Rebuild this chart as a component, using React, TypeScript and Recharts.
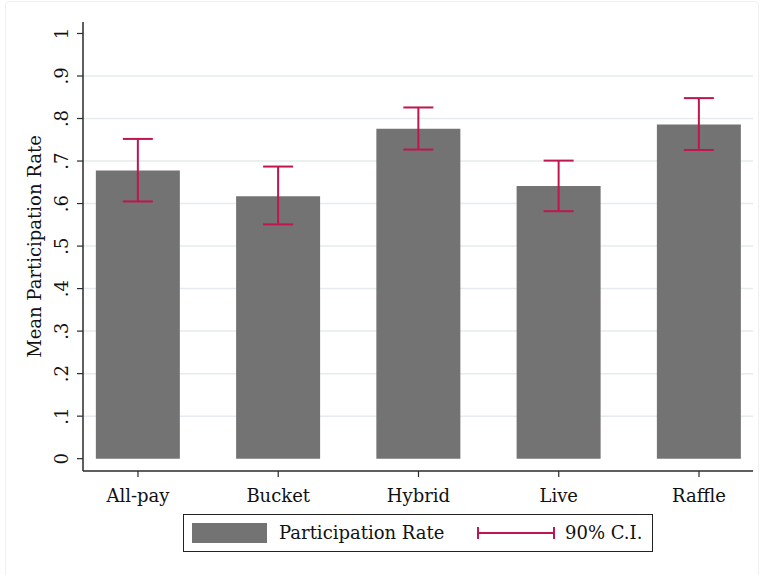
import { Bar, BarChart, CartesianGrid, ErrorBar, XAxis, YAxis } from "recharts";

const categories = ["All-pay", "Bucket", "Hybrid", "Live", "Raffle"];
const participationRate = [0.678, 0.617, 0.776, 0.641, 0.786];
const ciLower = [0.605, 0.551, 0.727, 0.582, 0.726];
const ciUpper = [0.752, 0.687, 0.826, 0.701, 0.848];
const yTicks = [0, 0.1, 0.2, 0.3, 0.4, 0.5, 0.6, 0.7, 0.8, 0.9, 1];
const yTickLabels = ["0", ".1", ".2", ".3", ".4", ".5", ".6", ".7", ".8", ".9", "1"];
const gridValues = [0.1, 0.2, 0.3, 0.4, 0.5, 0.6, 0.7, 0.8, 0.9];
const legendItems = ["Participation Rate", "90% C.I."];

const data = categories.map((name, i) => ({
  idx: i,
  name,
  rate: participationRate[i],
  err: [participationRate[i] - ciLower[i], ciUpper[i] - participationRate[i]],
}));

const FONT = "'DejaVu Serif', serif";
const FS = 18;
const BAR = "#737373";
const CI = "#c0164e";
const AXIS = "#2a2a2a";

function YTick(props: any) {
  const { x, y, payload } = props;
  const i = yTicks.indexOf(payload.value);
  return (
    <text
      x={x}
      y={y}
      transform={`rotate(-90, ${x}, ${y})`}
      textAnchor="middle"
      fontFamily={FONT}
      fontSize={FS}
      fill="#111"
    >
      {i >= 0 ? yTickLabels[i] : payload.value}
    </text>
  );
}

function Legendbox() {
  return (
    <div
      style={{
        position: "absolute",
        left: 183,
        top: 514,
        width: 468,
        height: 36,
        border: "1.5px solid #222",
        fontFamily: FONT,
        fontSize: FS,
        color: "#111",
      }}
    >
      <div style={{ position: "absolute", left: 8, top: 8, width: 75, height: 20, background: BAR }} />
      <div style={{ position: "absolute", left: 95, top: 7, lineHeight: "22px" }}>{legendItems[0]}</div>
      <svg style={{ position: "absolute", left: 293, top: 11 }} width={78} height={14}>
        <line x1={1} y1={7} x2={77} y2={7} stroke={CI} strokeWidth={2} />
        <line x1={1} y1={1} x2={1} y2={13} stroke={CI} strokeWidth={2} />
        <line x1={77} y1={1} x2={77} y2={13} stroke={CI} strokeWidth={2} />
      </svg>
      <div style={{ position: "absolute", left: 381, top: 7, lineHeight: "22px" }}>{legendItems[1]}</div>
    </div>
  );
}

export default function App() {
  return (
    <div style={{ position: "absolute", left: 0, top: 0, width: 762, height: 575, background: "#fff" }}>
      <div
        style={{
          position: "absolute",
          left: 5,
          top: 1,
          width: 752,
          height: 580,
          border: "1px solid #f0f0f0",
          borderRadius: 4,
        }}
      />
      <BarChart
        width={762}
        height={575}
        data={data}
        margin={{ top: 22, right: 9, bottom: 44, left: 0 }}
        style={{ position: "absolute", left: 0, top: 0 }}
      >
        <CartesianGrid
          vertical={false}
          horizontalValues={gridValues}
          stroke="#e4eced"
          strokeWidth={1.5}
        />
        <XAxis
          dataKey="idx"
          type="number"
          domain={[-0.392, 4.385]}
          ticks={[0, 1, 2, 3, 4]}
          interval={0}
          height={60}
          tickFormatter={(v: number) => categories[v]}
          tickSize={6}
          tickMargin={12}
          axisLine={{ stroke: AXIS, strokeWidth: 1.5 }}
          tickLine={{ stroke: AXIS, strokeWidth: 1.2 }}
          tick={{ fontFamily: FONT, fontSize: FS, fill: "#111" }}
        />
        <YAxis
          width={83}
          domain={[-0.029, 1.027]}
          ticks={yTicks}
          interval={0}
          tickSize={6}
          tickMargin={9}
          axisLine={{ stroke: AXIS, strokeWidth: 1.5 }}
          tickLine={{ stroke: AXIS, strokeWidth: 1.2 }}
          tick={<YTick />}
          label={{
            value: "Mean Participation Rate",
            angle: -90,
            position: "center",
            dx: -7,
            style: { fontFamily: FONT, fontSize: FS, fill: "#111" },
          }}
        />
        <Bar dataKey="rate" fill={BAR} barSize={84} isAnimationActive={false}>
          <ErrorBar dataKey="err" width={15} stroke={CI} strokeWidth={2} isAnimationActive={false} />
        </Bar>
      </BarChart>
      <Legendbox />
    </div>
  );
}
